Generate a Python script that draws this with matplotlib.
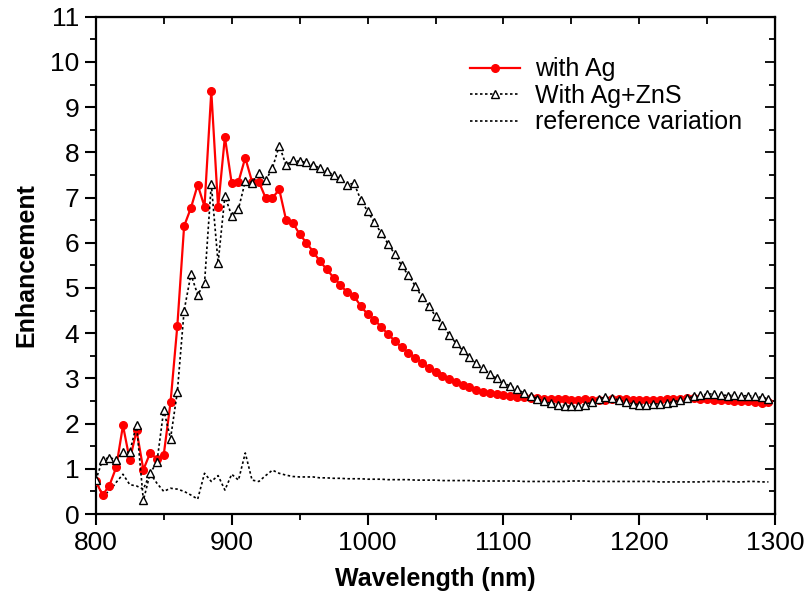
import matplotlib
matplotlib.use("Agg")
import numpy as np
import matplotlib.pyplot as plt
from matplotlib.ticker import MultipleLocator

plt.rcParams['font.family'] = ['Liberation Sans', 'DejaVu Sans']

# wavelength grid (nm), one sample every 5 nm
wavelength = np.arange(800, 1300, 5)

with_ag = [0.72, 0.42, 0.63, 1.03, 1.96, 1.19, 1.85, 0.98, 1.35, 1.22,
           1.31, 2.47, 4.16, 6.37, 6.77, 7.28, 6.80, 9.35, 6.78, 8.34,
           7.32, 7.35, 7.88, 7.35, 7.35, 6.99, 6.99, 7.18, 6.51, 6.44,
           6.19, 6.00, 5.80, 5.59, 5.41, 5.23, 5.07, 4.90, 4.82, 4.60,
           4.42, 4.30, 4.14, 3.98, 3.83, 3.69, 3.57, 3.46, 3.35, 3.24,
           3.15, 3.06, 2.98, 2.91, 2.85, 2.80, 2.75, 2.71, 2.68, 2.65,
           2.63, 2.61, 2.59, 2.58, 2.57, 2.56, 2.55, 2.55, 2.54, 2.54,
           2.53, 2.53, 2.54, 2.53, 2.52, 2.53, 2.54, 2.55, 2.54, 2.53,
           2.52, 2.52, 2.53, 2.53, 2.54, 2.55, 2.55, 2.56, 2.56, 2.55,
           2.54, 2.53, 2.52, 2.52, 2.51, 2.51, 2.50, 2.47, 2.46, 2.47]

with_ag_zns = [0.75, 1.20, 1.25, 1.20, 1.37, 1.37, 1.98, 0.30, 0.90, 1.15,
               2.30, 1.67, 2.70, 4.50, 5.30, 4.85, 5.10, 7.30, 5.55, 7.03,
               6.60, 6.75, 7.36, 7.33, 7.55, 7.38, 7.65, 8.15, 7.72, 7.82,
               7.80, 7.78, 7.72, 7.65, 7.58, 7.50, 7.43, 7.28, 7.32, 6.95,
               6.70, 6.45, 6.22, 5.98, 5.75, 5.50, 5.28, 5.05, 4.80, 4.60,
               4.38, 4.18, 3.97, 3.78, 3.62, 3.47, 3.33, 3.22, 3.10, 3.00,
               2.90, 2.83, 2.76, 2.68, 2.62, 2.55, 2.49, 2.45, 2.42, 2.40,
               2.38, 2.39, 2.42, 2.48, 2.55, 2.58, 2.57, 2.52, 2.47, 2.44,
               2.42, 2.42, 2.43, 2.44, 2.46, 2.48, 2.52, 2.56, 2.60, 2.63,
               2.65, 2.66, 2.64, 2.62, 2.63, 2.61, 2.62, 2.60, 2.58, 2.55]

reference = [0.75, 0.42, 0.50, 0.70, 0.88, 0.65, 0.62, 0.55, 0.90, 0.68,
             0.50, 0.57, 0.55, 0.50, 0.42, 0.33, 0.90, 0.72, 0.85, 0.53,
             0.88, 0.75, 1.35, 0.75, 0.72, 0.85, 0.97, 0.90, 0.86, 0.83,
             0.82, 0.82, 0.82, 0.80, 0.80, 0.79, 0.79, 0.78, 0.78, 0.78,
             0.77, 0.77, 0.77, 0.76, 0.76, 0.76, 0.76, 0.75, 0.75, 0.75,
             0.75, 0.74, 0.74, 0.74, 0.74, 0.74, 0.73, 0.73, 0.73, 0.73,
             0.73, 0.73, 0.73, 0.72, 0.72, 0.72, 0.72, 0.72, 0.72, 0.72,
             0.73, 0.73, 0.73, 0.72, 0.72, 0.72, 0.72, 0.72, 0.72, 0.72,
             0.72, 0.72, 0.72, 0.71, 0.71, 0.71, 0.71, 0.71, 0.71, 0.71,
             0.72, 0.72, 0.72, 0.72, 0.71, 0.71, 0.72, 0.72, 0.71, 0.71]

fig = plt.figure(figsize=(8.05, 5.97), dpi=100)
ax = fig.add_axes([0.119, 0.139, 0.844, 0.833])

ax.plot(wavelength, with_ag, color="#ff0000", lw=1.6, marker="o", ms=5.5,
        mec="#ff0000", mfc="#ff0000", label="with Ag", zorder=3)
ax.plot(wavelength, with_ag_zns, color="black", lw=1.2, ls=(0, (1.5, 1.5)),
        marker="^", ms=6, mfc="white", mec="black", mew=1.0,
        label="With Ag+ZnS", zorder=4)
ax.plot(wavelength, reference, color="black", lw=1.2, ls=(0, (1.5, 1.5)),
        label="reference variation", zorder=2)

ax.set_xlim(800, 1300)
ax.set_ylim(0, 11)
ax.xaxis.set_major_locator(MultipleLocator(100))
ax.xaxis.set_minor_locator(MultipleLocator(50))
ax.yaxis.set_major_locator(MultipleLocator(1))
ax.yaxis.set_minor_locator(MultipleLocator(0.5))

for s in ax.spines.values():
    s.set_linewidth(1.6)

ax.tick_params(which="major", direction="out", length=8, width=1.5,
               labelsize=19, pad=4)
ax.tick_params(which="minor", direction="out", length=4, width=1.3)

# inward ticks on top and right
top = ax.secondary_xaxis("top")
top.xaxis.set_major_locator(MultipleLocator(100))
top.xaxis.set_minor_locator(MultipleLocator(50))
top.tick_params(which="both", direction="in", length=5, width=1.3,
                labeltop=False)
right = ax.secondary_yaxis("right")
right.yaxis.set_major_locator(MultipleLocator(1))
right.yaxis.set_minor_locator(MultipleLocator(0.5))
right.tick_params(which="major", direction="in", length=7, width=1.3,
                  labelright=False)
right.tick_params(which="minor", direction="in", length=4, width=1.3,
                  labelright=False)

ax.set_xlabel("Wavelength (nm)", fontsize=18, fontweight="bold", labelpad=9)
ax.set_ylabel("Enhancement", fontsize=18, fontweight="bold", labelpad=8)

ax.legend(loc="upper left", bbox_to_anchor=(0.551, 0.918), frameon=False,
          fontsize=18, handlelength=2.0, handletextpad=0.6,
          labelspacing=0.1, borderpad=0, borderaxespad=0)

fig.savefig("out.png", dpi=100)
